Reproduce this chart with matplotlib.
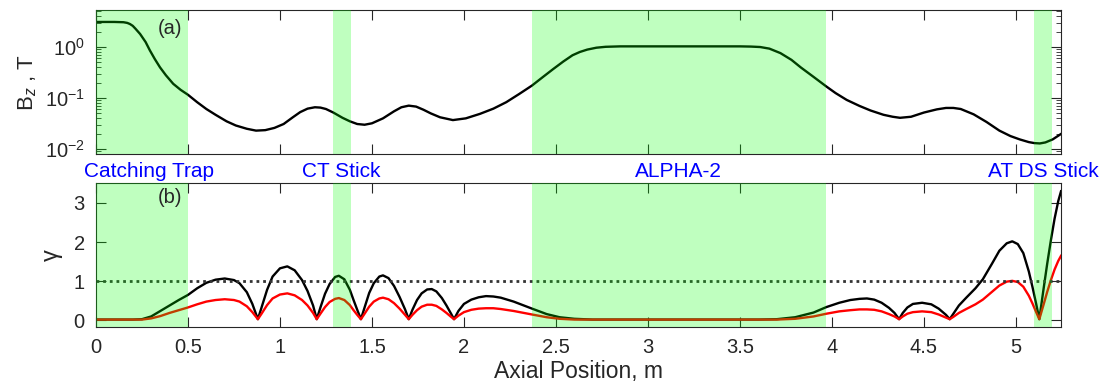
import numpy as np
import matplotlib
matplotlib.use('Agg')
import matplotlib.pyplot as plt
from matplotlib.ticker import LogLocator, NullFormatter

plt.rcParams['font.family'] = ['Liberation Sans', 'DejaVu Sans']
plt.rcParams['mathtext.fontset'] = 'custom'
plt.rcParams['mathtext.rm'] = 'Liberation Sans'
plt.rcParams['mathtext.it'] = 'Liberation Sans:italic'

# B_z along the axis
bz_x = [0, 0.10, 0.15, 0.17, 0.185, 0.20, 0.215, 0.24, 0.27, 0.293, 0.32, 0.348, 0.38, 0.42, 0.46, 0.50,
        0.55, 0.60, 0.65, 0.71, 0.76, 0.82, 0.87, 0.92, 0.97, 1.02, 1.07, 1.11, 1.15, 1.19, 1.22,
        1.25, 1.29, 1.34, 1.38, 1.42, 1.46, 1.50, 1.56, 1.62, 1.66, 1.70, 1.74, 1.78, 1.82, 1.87,
        1.94, 2.01, 2.087, 2.16, 2.23, 2.30, 2.37, 2.43, 2.485, 2.54, 2.59, 2.63, 2.67, 2.72, 2.77,
        2.85, 3.50, 3.56, 3.61, 3.66, 3.72, 3.78, 3.83, 3.90, 3.97, 4.02, 4.08, 4.15, 4.21, 4.28,
        4.33, 4.37, 4.43, 4.50, 4.57, 4.62, 4.66, 4.70, 4.77, 4.84, 4.91, 4.97, 5.02, 5.07, 5.10,
        5.13, 5.16, 5.20, 5.245]
bz_val = [3.1, 3.1, 3.06, 2.97, 2.82, 2.6, 2.28, 1.8, 1.25, 0.86, 0.58, 0.40, 0.28, 0.19, 0.145, 0.116,
          0.083, 0.061, 0.047, 0.035, 0.029, 0.025, 0.023, 0.0235, 0.026, 0.031, 0.042, 0.053, 0.062, 0.066, 0.065,
          0.061, 0.052, 0.041, 0.035, 0.031, 0.030, 0.032, 0.040, 0.055, 0.066, 0.071, 0.068, 0.059, 0.050, 0.042,
          0.037, 0.040, 0.049, 0.062, 0.083, 0.12, 0.176, 0.26, 0.37, 0.52, 0.69, 0.80, 0.89, 0.97, 1.01,
          1.03, 1.03, 1.02, 1.0, 0.93, 0.76, 0.56, 0.40, 0.26, 0.168, 0.125, 0.092, 0.070, 0.057, 0.047,
          0.043, 0.041, 0.043, 0.052, 0.060, 0.064, 0.064, 0.061, 0.048, 0.034, 0.023, 0.018, 0.0155, 0.0137, 0.0131,
          0.0129, 0.0135, 0.0155, 0.0198]

# gamma along the axis, two cases
g_x = [0, 0.10, 0.20, 0.25, 0.30, 0.35, 0.40, 0.45, 0.50, 0.55, 0.60, 0.65, 0.70, 0.75, 0.78, 0.82, 0.85, 0.88,
       0.90, 0.93, 0.96, 1.00, 1.04, 1.08, 1.12, 1.15, 1.18, 1.20,
       1.22, 1.245, 1.27, 1.30, 1.32, 1.35, 1.38, 1.40, 1.42, 1.44,
       1.46, 1.485, 1.51, 1.54, 1.56, 1.59, 1.62, 1.65, 1.68, 1.70,
       1.72, 1.745, 1.77, 1.80, 1.825, 1.85, 1.88, 1.905, 1.93, 1.946,
       1.97, 2.00, 2.04, 2.08, 2.12, 2.16, 2.20, 2.27, 2.37, 2.45, 2.52, 2.60, 2.70, 3.00, 3.30, 3.60, 3.70,
       3.80, 3.90, 3.97, 4.04, 4.10, 4.15, 4.19, 4.23, 4.27, 4.31, 4.34, 4.365,
       4.385, 4.41, 4.44, 4.49, 4.54, 4.58, 4.62, 4.64,
       4.66, 4.69, 4.73, 4.78, 4.82, 4.87, 4.91, 4.95, 4.98, 5.01, 5.04, 5.07, 5.09, 5.11, 5.127,
       5.15, 5.17, 5.19, 5.21, 5.23, 5.245]
g_black = [0.02, 0.02, 0.02, 0.03, 0.10, 0.24, 0.38, 0.52, 0.65, 0.82, 0.96, 1.04, 1.07, 1.03, 0.95, 0.72, 0.42, 0.03,
           0.33, 0.78, 1.12, 1.33, 1.38, 1.28, 1.03, 0.75, 0.38, 0.03,
           0.33, 0.68, 0.93, 1.11, 1.14, 1.05, 0.78, 0.52, 0.27, 0.03,
           0.33, 0.70, 0.95, 1.12, 1.15, 1.08, 0.88, 0.60, 0.28, 0.03,
           0.27, 0.52, 0.69, 0.79, 0.80, 0.74, 0.57, 0.38, 0.17, 0.03,
           0.24, 0.42, 0.53, 0.59, 0.62, 0.61, 0.58, 0.48, 0.30, 0.16, 0.08, 0.04, 0.02, 0.02, 0.02, 0.02, 0.03,
           0.08, 0.20, 0.34, 0.45, 0.52, 0.55, 0.56, 0.53, 0.45, 0.32, 0.19, 0.03,
           0.19, 0.33, 0.42, 0.45, 0.41, 0.30, 0.14, 0.03,
           0.17, 0.38, 0.58, 0.82, 1.05, 1.45, 1.78, 1.97, 2.02, 1.95, 1.72, 1.25, 0.85, 0.42, 0.03,
           0.80, 1.45, 2.05, 2.60, 3.05, 3.30]
g_red = [0.02, 0.02, 0.02, 0.02, 0.05, 0.11, 0.19, 0.26, 0.33, 0.41, 0.48, 0.52, 0.54, 0.52, 0.48, 0.36, 0.21, 0.03,
         0.17, 0.39, 0.56, 0.66, 0.69, 0.64, 0.52, 0.38, 0.19, 0.03,
         0.17, 0.34, 0.47, 0.55, 0.57, 0.52, 0.39, 0.26, 0.14, 0.03,
         0.17, 0.35, 0.48, 0.56, 0.58, 0.54, 0.44, 0.30, 0.14, 0.03,
         0.14, 0.26, 0.35, 0.40, 0.40, 0.37, 0.28, 0.19, 0.09, 0.03,
         0.12, 0.21, 0.27, 0.30, 0.31, 0.31, 0.29, 0.24, 0.15, 0.08, 0.04, 0.02, 0.02, 0.02, 0.02, 0.02, 0.02,
         0.04, 0.10, 0.17, 0.23, 0.26, 0.28, 0.28, 0.27, 0.23, 0.16, 0.10, 0.03,
         0.10, 0.17, 0.21, 0.23, 0.21, 0.15, 0.07, 0.03,
         0.09, 0.19, 0.29, 0.41, 0.53, 0.73, 0.89, 0.99, 1.01, 0.98, 0.86, 0.63, 0.43, 0.21, 0.03,
         0.40, 0.73, 1.03, 1.30, 1.52, 1.65]

# shaded regions and their names
regions = [(0.0, 0.5), (1.288, 1.386), (2.37, 3.966), (5.098, 5.196)]
region_names = ['Catching Trap', 'CT Stick', 'ALPHA-2', 'AT DS Stick']
name_x = [0.29, 1.335, 3.165, 5.15]

xmax = 5.245
axcol = '0.15'

fig = plt.figure(figsize=(11.08, 3.87), dpi=100)
ax1 = fig.add_axes([0.0866, 0.602, 0.871, 0.372])
ax2 = fig.add_axes([0.0866, 0.155, 0.871, 0.371])

ax1.semilogy(bz_x, bz_val, color='k', lw=1.7)
ax1.set_ylim(0.008, 5.3)
ax1.yaxis.set_major_locator(LogLocator(base=10, numticks=10))
ax1.yaxis.set_minor_locator(LogLocator(base=10, subs=np.arange(2, 10), numticks=10))
ax1.yaxis.set_minor_formatter(NullFormatter())
ax1.set_ylabel('B$_z$ , T', fontsize=16, color=axcol, labelpad=4)
ax1.set_xticklabels([])
ax1.text(0.077, 0.875, '(a)', transform=ax1.transAxes, ha='center', va='center',
         fontsize=14.5, color=axcol, zorder=5)

ax2.plot(g_x, g_black, color='k', lw=1.7)
ax2.plot(g_x, g_red, color='r', lw=1.7)
ax2.axhline(1, color='0.2', lw=2, ls=(0, (1, 1.4)))
ax2.set_ylim(-0.17, 3.5)
ax2.set_yticks([0, 1, 2, 3])
ax2.set_ylabel('γ', fontsize=17, color=axcol, labelpad=8)
ax2.set_xlabel('Axial Position, m', fontsize=16.5, color=axcol, labelpad=2)
ax2.text(0.077, 0.90, '(b)', transform=ax2.transAxes, ha='center', va='center',
         fontsize=14.5, color=axcol, zorder=5)

for ax in (ax1, ax2):
    ax.set_xlim(0, xmax)
    ax.set_xticks(np.arange(0, 5.01, 0.5))
    for (a, b) in regions:
        ax.axvspan(a, b, color=(0, 1, 0), alpha=0.25, lw=0, zorder=3)
    ax.tick_params(which='major', direction='in', length=7, width=0.8, top=True, right=True,
                   labelsize=14.5, colors=axcol, pad=8)
    ax.tick_params(which='minor', direction='in', length=3.5, width=0.6, top=True, right=True, colors=axcol)
    for sp in ax.spines.values():
        sp.set_color(axcol)
        sp.set_linewidth(0.8)

ax2.set_xticklabels(['0', '0.5', '1', '1.5', '2', '2.5', '3', '3.5', '4', '4.5', '5'])
ax1.tick_params(axis='x', which='minor', top=False, bottom=False)

for nx, name in zip(name_x, region_names):
    ax2.text(nx, 3.67, name, ha='center', va='baseline',
             fontsize=15, color=(0, 0, 1), clip_on=False)

fig.savefig('out.png', dpi=100)
